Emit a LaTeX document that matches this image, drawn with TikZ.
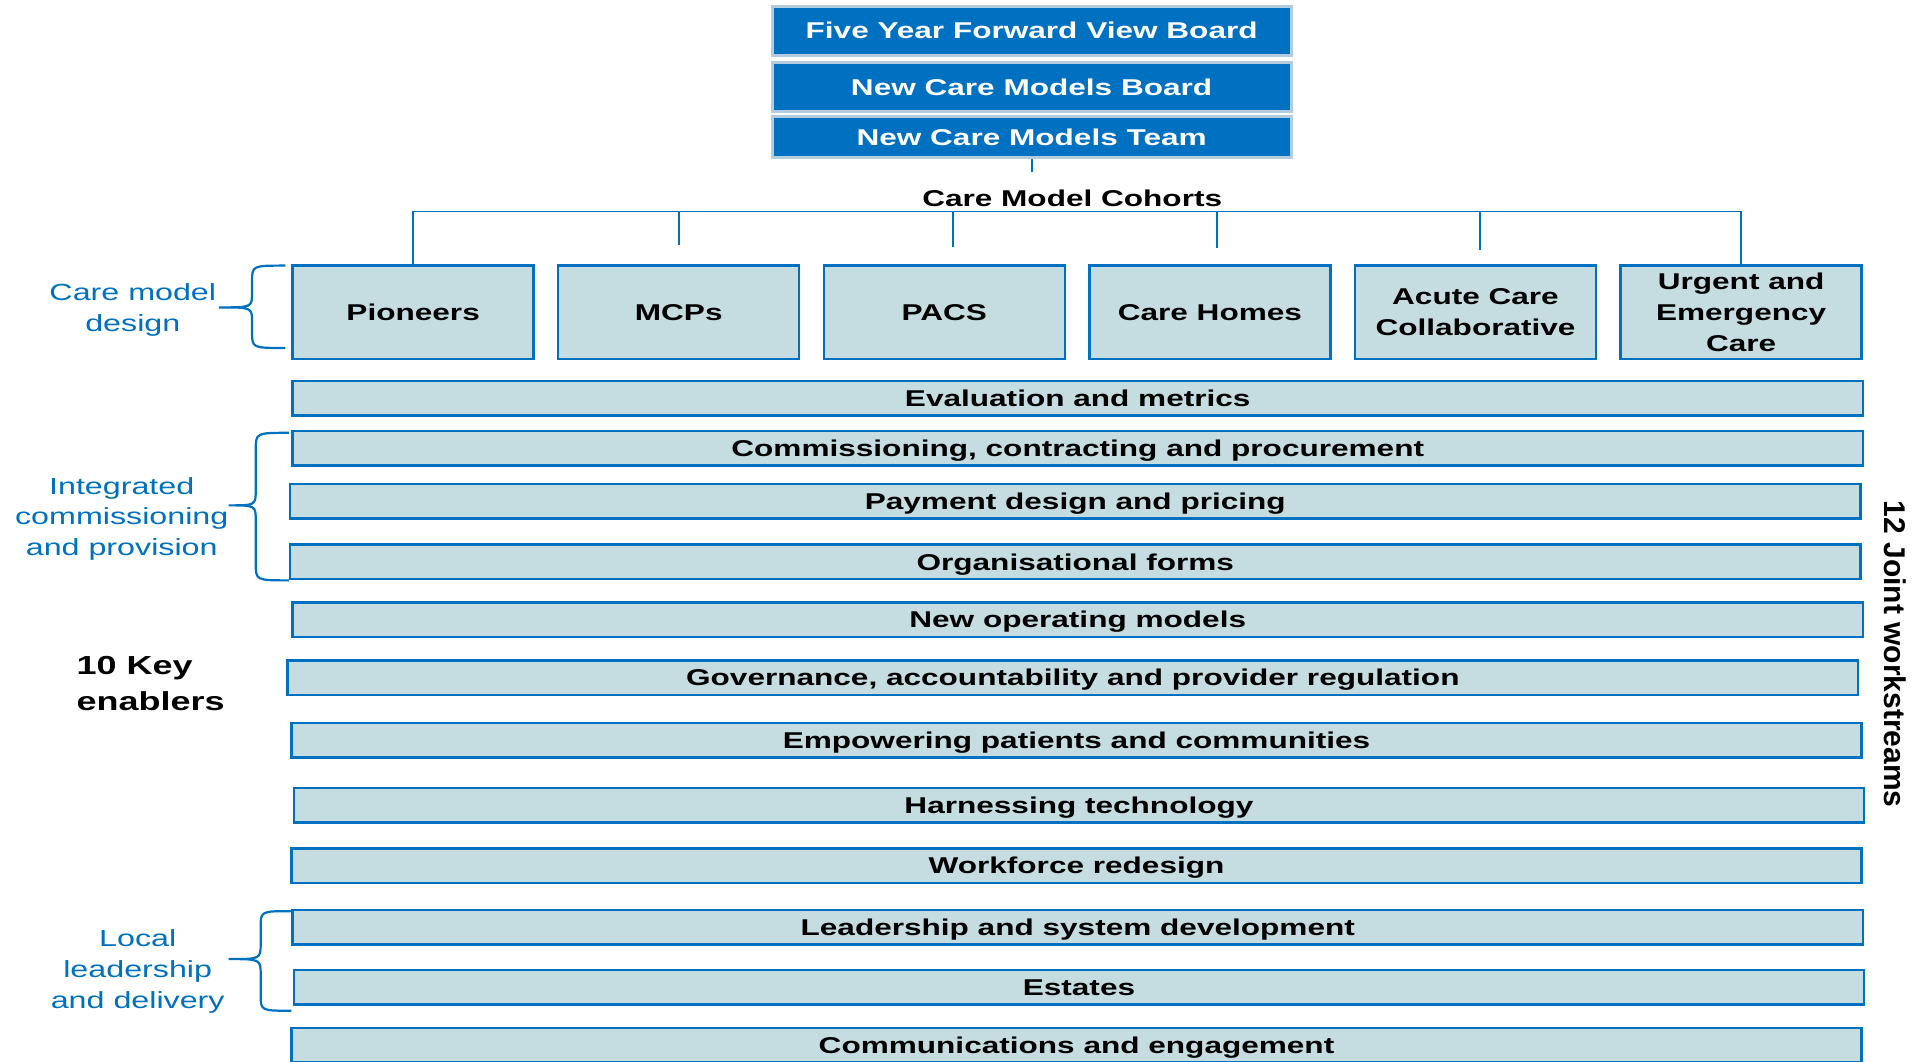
\documentclass[tikz,border=0pt]{standalone}
\usepackage{fontspec}
\setmainfont{Liberation Sans}[FakeStretch=1.38]
\newfontfamily\uprightsans{Liberation Sans}
\usepackage{xcolor}
\usetikzlibrary{positioning}

\definecolor{nhsblue}{RGB}{0,112,192}
\definecolor{barfill}{RGB}{197,221,224}
\definecolor{boardline}{RGB}{180,205,222}

\begin{document}
\begin{tikzpicture}[x=0.5pt, y=-0.5pt, on grid,
  board/.style={draw=boardline, line width=1.2pt, fill=nhsblue, text=white, font=\fontsize{9.3pt}{11pt}\selectfont\bfseries, minimum width=211pt, inner sep=0pt, text height=7.2pt, text depth=0.5pt},
  cohort/.style={draw=nhsblue, line width=1pt, fill=barfill, font=\fontsize{9.3pt}{12.5pt}\selectfont\bfseries, align=center, minimum width=98pt, minimum height=38pt, inner sep=0pt},
  bar/.style={draw=nhsblue, line width=1pt, fill=barfill, font=\fontsize{9.3pt}{11pt}\selectfont\bfseries, minimum width=638.5pt, minimum height=14pt, inner sep=0pt, text height=7.2pt, text depth=0.5pt},
  group/.style={text=nhsblue, font=\fontsize{9.5pt}{12.5pt}\selectfont, align=center},
  link/.style={draw=nhsblue, line width=0.8pt},
  brace/.style={draw=nhsblue, line width=0.9pt}]

  \useasboundingbox (0,0) rectangle (1568,863);

  % boards
  \node[board, minimum height=20pt] (FY) at (839,25) {Five Year Forward View Board};
  \node[board, minimum height=20pt] (NB) at (839,71) {New Care Models Board};
  \node[board, minimum height=16.5pt] (NT) at (839,111.5) {New Care Models Team};

  % cohorts
  \node[cohort] (Pi) at (336,254) {Pioneers};
  \node[cohort] (MC) [right=108pt of Pi] {MCPs};
  \node[cohort] (PA) [right=108pt of MC] {PACS};
  \node[cohort] (CH) [right=108pt of PA] {Care Homes};
  \node[cohort] (AC) [right=108pt of CH] {Acute Care\\Collaborative};
  \node[cohort] (UE) [right=108pt of AC] {Urgent and\\Emergency\\Care};

  \node[font=\fontsize{9.3pt}{11pt}\selectfont\bfseries] (CMC) at (872,161) {Care Model Cohorts};

  \coordinate (drop) at (839,140);
  \coordinate (busL) at (336,172);
  \coordinate (sMC) at (552,199);
  \coordinate (sPA) at (775,201);
  \coordinate (sCH) at (990,202);
  \coordinate (sAC) at (1204,203);

  \draw[link] (NT.south) -- (drop);
  \draw[link] (Pi.north) -- (busL) -- (busL -| UE.north) -- (UE.north);
  \draw[link] (sMC |- busL) -- (sMC);
  \draw[link] (sPA |- busL) -- (sPA);
  \draw[link] (sCH |- busL) -- (sCH);
  \draw[link] (sAC |- busL) -- (sAC);

  % workstreams
  \node[bar] (EM) at (876.5,324) {Evaluation and metrics};
  \node[bar] (CC) at (876.5,364.5) {Commissioning, contracting and procurement};
  \node[bar] (PD) at (874.5,407.5) {Payment design and pricing};
  \node[bar] (OF) at (874.5,457) {Organisational forms};
  \node[bar] (NO) at (876.5,504) {New operating models};
  \node[bar] (GA) at (872.5,551) {Governance, accountability and provider regulation};
  \node[bar] (EP) at (875.5,602) {Empowering patients and communities};
  \node[bar] (HT) at (877.5,655) {Harnessing technology};
  \node[bar] (WR) at (875.5,704) {Workforce redesign};
  \node[bar] (LS) at (876.5,754) {Leadership and system development};
  \node[bar] (ES) at (877.5,803) {Estates};
  \node[bar] (CE) at (875.5,850) {Communications and engagement};

  % side labels
  \node[group] (CMD) at (108,252) {Care model\\design};
  \node[group] (ICP) at (99,422) {Integrated\\commissioning\\and provision};
  \node[group] (LLD) at (112,790) {Local\\leadership\\and delivery};
  \node[font=\fontsize{10.6pt}{14.5pt}\selectfont\bfseries, align=left, anchor=west, inner sep=0pt] (KE) at (62,556) {10 Key\\enablers};
  \node[font=\uprightsans\fontsize{12.2pt}{14pt}\selectfont\bfseries, rotate=-90] (JW) at (1541,532) {12 Joint workstreams};

  \draw[brace] (232,216) .. controls (205,216) .. (205,229) -- (205,238) .. controls (205,250) .. (178,250)
    .. controls (205,250) .. (205,262) -- (205,270) .. controls (205,283) .. (232,283);
  \draw[brace] (235,352) .. controls (208,352) .. (208,366) -- (208,398) .. controls (208,411) .. (186,411)
    .. controls (208,411) .. (208,424) -- (208,458) .. controls (208,472) .. (235,472);
  \draw[brace] (237,741) .. controls (212,741) .. (212,754) -- (212,767) .. controls (212,780) .. (186,780)
    .. controls (212,780) .. (212,793) -- (212,809) .. controls (212,822) .. (237,822);

\end{tikzpicture}
\end{document}
